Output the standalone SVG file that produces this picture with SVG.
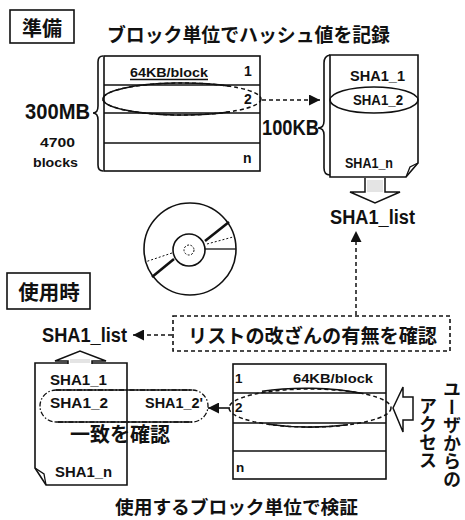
<svg xmlns="http://www.w3.org/2000/svg" width="465" height="520" viewBox="0 0 465 520">
  <defs>
    <style>
      .jp { font-family: "Noto Sans CJK JP", "Noto Sans", sans-serif; font-weight: 700; fill: #111; }
      .lat { font-family: "Liberation Sans", Arial, sans-serif; font-weight: 700; fill: #111; }
      .box { fill: #fff; stroke: #111; stroke-width: 1.6; }
      .line { fill: none; stroke: #111; stroke-width: 1.6; }
      .dash { fill: none; stroke: #111; stroke-width: 1.5; stroke-dasharray: 4 3; }
      .thin { fill: none; stroke: #111; stroke-width: 1.3; }
      .hollow { fill: #fff; stroke: #111; stroke-width: 1.5; stroke-linejoin: miter; }
      .dotfill { fill: #e4e4e4; }
    </style>
    <marker id="head" viewBox="0 0 10 10" refX="10" refY="5" markerWidth="11" markerHeight="11" markerUnits="userSpaceOnUse" orient="auto">
      <path d="M0,0 L10,5 L0,10 Z" fill="#111"/>
    </marker>
  </defs>
  <rect width="465" height="520" fill="#fff"/>

  <!-- section label: preparation -->
  <g id="label-prep">
    <rect class="box" x="10" y="10" width="64" height="33"/>
    <text class="jp" x="42" y="36" font-size="20" text-anchor="middle">準備</text>
  </g>
  <text class="jp" x="107" y="41.5" font-size="19" textLength="283" lengthAdjust="spacingAndGlyphs">ブロック単位でハッシュ値を記録</text>

  <!-- source image split into 64KB blocks -->
  <g id="source-blocks">
    <rect class="box" x="104" y="56" width="156" height="115"/>
    <line class="line" x1="104" y1="85" x2="260" y2="85"/>
    <line class="line" x1="104" y1="113" x2="260" y2="113"/>
    <line class="line" x1="104" y1="143" x2="260" y2="143"/>
    <path class="line" d="M103,56 Q98,56 98,62 V106 Q98,113 93,113 Q98,113 98,120 V165 Q98,171 103,171"/>
    <text class="lat" x="130" y="77" font-size="13.5" textLength="78" lengthAdjust="spacingAndGlyphs">64KB/block</text>
    <line class="thin" x1="130" y1="79.5" x2="208" y2="79.5"/>
    <text class="lat" x="244" y="76" font-size="14">1</text>
    <text class="lat" x="244" y="104" font-size="14">2</text>
    <text class="lat" x="243" y="163" font-size="14">n</text>
    <ellipse class="dash" cx="182" cy="99" rx="79" ry="16"/>
    <path class="line" d="M230,86.3 A79,16 0 1,0 230,111.7"/>
  </g>
  <text class="lat" x="25" y="119" font-size="22" textLength="65" lengthAdjust="spacingAndGlyphs">300MB</text>
  <text class="lat" x="40" y="147" font-size="13.5" textLength="35" lengthAdjust="spacingAndGlyphs">4700</text>
  <text class="lat" x="33" y="167" font-size="13.5" textLength="45" lengthAdjust="spacingAndGlyphs">blocks</text>

  <!-- hash list document -->
  <g id="hash-doc">
    <path class="box" d="M330,55 H418 V163 L406,177 H330 Z"/>
    <path class="thin" d="M418,163 L410,167 L406,177"/>
    <path class="line" d="M330,55 Q324,56 324,63 V121 Q324,128 318,128 Q324,128 324,135 V168 Q324,175 330,175"/>
    <text class="lat" x="350" y="81" font-size="14" textLength="55" lengthAdjust="spacingAndGlyphs">SHA1_1</text>
    <ellipse class="line" cx="374" cy="100" rx="44" ry="13"/>
    <text class="lat" x="353" y="105" font-size="14" textLength="50" lengthAdjust="spacingAndGlyphs">SHA1_2</text>
    <text class="lat" x="345" y="168" font-size="14" textLength="48" lengthAdjust="spacingAndGlyphs">SHA1_n</text>
  </g>
  <text class="lat" x="262" y="135" font-size="22" textLength="57" lengthAdjust="spacingAndGlyphs">100KB</text>

  <!-- hash list output -->
  <g id="hash-list-top">
    <path class="hollow" d="M365,178 V192 H350 L375,203 L400,192 H385 V178"/>
    <rect class="dotfill" x="367" y="180" width="16" height="12"/>
    <text class="lat" x="330" y="224" font-size="20" textLength="85" lengthAdjust="spacingAndGlyphs">SHA1_list</text>
  </g>

  <!-- CD-ROM disc -->
  <g id="disc">
    <circle class="line" cx="190" cy="249" r="46"/>
    <circle class="line" cx="189" cy="250" r="16"/>
    <circle cx="189" cy="250" r="5" fill="none" stroke="#111" stroke-width="1" stroke-dasharray="2 1.5"/>
    <line x1="205" y1="241" x2="229" y2="222" stroke="#111" stroke-width="2.6"/>
    <line class="thin" x1="205" y1="249" x2="236" y2="249"/>
    <line x1="207" y1="244" x2="233" y2="237" stroke="#111" stroke-width="1" stroke-dasharray="2 2"/>
    <line x1="174" y1="259" x2="152" y2="277" stroke="#111" stroke-width="2.6"/>
    <line x1="172" y1="253" x2="145" y2="262" stroke="#111" stroke-width="1" stroke-dasharray="2 2"/>
  </g>

  <!-- section label: in use -->
  <g id="label-use">
    <rect class="box" x="7" y="273" width="83" height="36"/>
    <text class="jp" x="49" y="300" font-size="20.5" text-anchor="middle">使用時</text>
  </g>

  <!-- tamper check box -->
  <g id="tamper-check">
    <rect x="173" y="316" width="277" height="35" fill="#fff" stroke="#111" stroke-width="1.6" stroke-dasharray="4 3"/>
    <text class="jp" x="188" y="343" font-size="19.2" textLength="249" lengthAdjust="spacingAndGlyphs">リストの改ざんの有無を確認</text>
  </g>

  <!-- hash list input -->
  <g id="hash-list-bottom">
    <text class="lat" x="42" y="342" font-size="20" textLength="85" lengthAdjust="spacingAndGlyphs">SHA1_list</text>
  </g>

  <!-- hash list document (verification side) -->
  <g id="hash-doc-use">
    <path class="box" d="M35,363 H127 V485 H46 L35,468 Z"/>
    <path class="thin" d="M35,468 L44,474 L46,485"/>
    <text class="lat" x="50" y="385" font-size="14" textLength="57" lengthAdjust="spacingAndGlyphs">SHA1_1</text>
    <text class="lat" x="50" y="408" font-size="14" textLength="58" lengthAdjust="spacingAndGlyphs">SHA1_2</text>
    <text class="lat" x="55" y="477" font-size="14" textLength="57" lengthAdjust="spacingAndGlyphs">SHA1_n</text>
  </g>
  <g id="hollow-up">
    <path class="hollow" d="M68,364 V361 H55 L80,351 L106,361 H92 V364"/>
    <rect class="dotfill" x="70" y="359" width="20" height="4"/>
  </g>

  <!-- comparison capsule -->
  <g id="compare">
    <rect x="40" y="390" width="168" height="32" rx="16" fill="none" stroke="#111" stroke-width="1.3" stroke-dasharray="5 2 1.5 2"/>
    <line class="thin" x1="56" y1="390" x2="192" y2="390"/>
    <line class="thin" x1="56" y1="422" x2="192" y2="422"/>
    <text class="lat" x="145" y="408" font-size="14" textLength="58" lengthAdjust="spacingAndGlyphs">SHA1_2'</text>
    <text class="jp" x="70" y="442" font-size="20" textLength="100" lengthAdjust="spacingAndGlyphs">一致を確認</text>
  </g>

  <!-- image blocks read on access -->
  <g id="access-blocks">
    <rect class="box" x="233" y="364" width="153" height="115"/>
    <line class="line" x1="233" y1="393" x2="386" y2="393"/>
    <line class="line" x1="233" y1="423" x2="386" y2="423"/>
    <line class="line" x1="233" y1="451" x2="386" y2="451"/>
    <text class="lat" x="235" y="383" font-size="13.5">1</text>
    <text class="lat" x="293" y="383" font-size="13.5" textLength="80" lengthAdjust="spacingAndGlyphs">64KB/block</text>
    <text class="lat" x="235" y="412" font-size="13.5">2</text>
    <text class="lat" x="236" y="472" font-size="13.5">n</text>
    <ellipse class="dash" cx="310" cy="408" rx="81" ry="19"/>
    <path class="line" d="M262,391.2 A81,19 0 0,1 360,393.1"/>
    <path class="line" d="M268,424.2 A81,19 0 0,0 348,424.8"/>
  </g>

  <!-- user access arrow and label -->
  <g id="user-access">
    <path class="hollow" d="M393,408 L403,387 V397 H413 V420 H403 V432 Z"/>
    <text class="jp" x="452" y="380" font-size="18" style="writing-mode: vertical-rl">ユーザからの</text>
    <text class="jp" x="428" y="397" font-size="18" style="writing-mode: vertical-rl">アクセス</text>
  </g>

  <text class="jp" x="115" y="514" font-size="18.7" textLength="243" lengthAdjust="spacingAndGlyphs">使用するブロック単位で検証</text>

  <!-- connectors -->
  <g id="connectors">
    <line class="dash" x1="262" y1="100" x2="320" y2="100" marker-end="url(#head)"/>
    <line class="dash" x1="356" y1="315" x2="356" y2="231" marker-end="url(#head)"/>
    <line class="dash" x1="172" y1="335" x2="133" y2="335" marker-end="url(#head)"/>
    <line class="line" x1="230" y1="408" x2="208" y2="408" marker-end="url(#head)"/>
  </g>
</svg>
